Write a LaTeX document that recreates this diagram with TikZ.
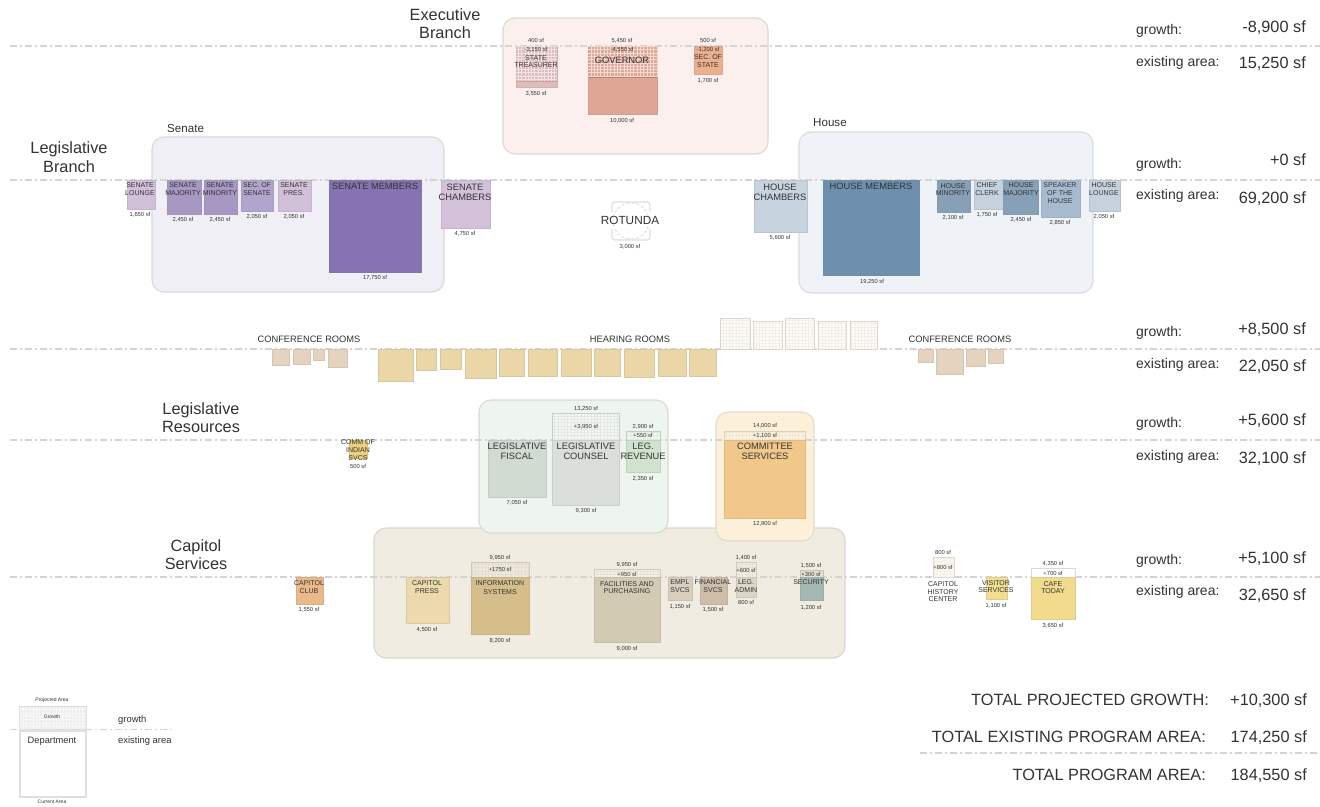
\documentclass[tikz,border=0pt]{standalone}
\usepackage{fontspec}
\setmainfont{Liberation Sans}
\newcounter{lblc}
\definecolor{ink}{HTML}{333333}
\definecolor{trline}{HTML}{C9A0A0}
\definecolor{govline}{HTML}{C08070}
\definecolor{cafeedge}{HTML}{DDDAD0}
\definecolor{legendedge}{HTML}{E0E0E0}
\tikzset{
  zone/.style={line width=1.1pt,rounded corners=12pt},
  room/.style={line width=1pt},
  axisline/.style={draw=black!17,line width=1.1pt,dash pattern=on 7pt off 3pt on 2pt off 3pt},
  fine/.style={line width=.25pt,draw opacity=.6},
  txt/.style={inner sep=0pt,text=ink,anchor=base},
  txtl/.style={txt,anchor=base west},
  txtr/.style={txt,anchor=base east}
}
% zone: x0 y0 x1 y1 fill border
\newcommand{\zonebox}[6]{\definecolor{ca}{HTML}{#5}\definecolor{cb}{HTML}{#6}\path[zone,fill=ca,draw=cb] (#1,#2) rectangle (#3,#4);}
% room: x0 y0 x1 y1 colour
\newcommand{\roombox}[5]{\definecolor{ca}{HTML}{#5}\path[room,fill=ca,draw=ca!82!gray] (#1,#2) rectangle (#3,#4);}
% hatch: x0 y0 x1 y1 colour name
\newcommand{\hatch}[5]{\begin{scope}[y=1pt]\draw[fine,draw=#5] (#1,-#4) grid[xstep=3.3,ystep=3.3] (#3,-#2);\end{scope}}
% grid panel: x0 y0 x1 y1 fill gridcolour border
\newcommand{\gridbox}[7]{\definecolor{ca}{HTML}{#5}\definecolor{cb}{HTML}{#6}\definecolor{cc}{HTML}{#7}\path[fill=ca] (#1,#2) rectangle (#3,#4);
  \hatch{#1}{#2}{#3}{#4}{cb}
  \draw[room,draw=cc] (#1,#2) rectangle (#3,#4);}
% text: size x y text
\newcommand{\T}[4]{\stepcounter{lblc}\node[txt] (t\arabic{lblc}) at ({#2},{#3+0.36*#1}) {\fontsize{#1}{#1}\selectfont #4};}
\newcommand{\TL}[4]{\stepcounter{lblc}\node[txtl] (t\arabic{lblc}) at ({#2},{#3+0.36*#1}) {\fontsize{#1}{#1}\selectfont #4};}
\newcommand{\TR}[4]{\stepcounter{lblc}\node[txtr] (t\arabic{lblc}) at ({#2},{#3+0.36*#1}) {\fontsize{#1}{#1}\selectfont #4};}
\begin{document}
\begin{tikzpicture}[x=1pt,y=-1pt]
\useasboundingbox (0,0) rectangle (1320,806);
\fill[white] (0,0) rectangle (1320,806);
% zones
\zonebox{503}{18}{768}{154}{FCF0EE}{DDD8D5}
\zonebox{152}{137}{444}{292}{F0EFF6}{D9D8DE}
\zonebox{799}{132}{1093}{293}{EFF2F7}{D9DCE0}
\zonebox{374}{528}{845}{658}{F0ECE2}{D9D6CD}
\zonebox{479}{400}{668}{533}{EEF5EF}{D5DCD6}
\zonebox{716}{412}{814}{541}{FDF0D9}{E2DCCB}
% axis lines
\foreach \yy in {46,180,349,440,577}{\draw[axisline] (10,\yy) -- (1320,\yy);}
\draw[axisline] (10,729.5) -- (173,729.5);
\draw[axisline] (920,753) -- (1320,753);
% Executive
\roombox{516}{46}{557}{87}{E0BDBD}
\hatch{516}{46}{557}{81}{white}
\draw[line width=.6pt,draw=trline] (516,81) -- (557,81);
\roombox{588}{46}{657}{114}{DFA595}
\hatch{588}{46}{657}{77}{white}
\draw[line width=.6pt,draw=govline] (588,77) -- (657,77);
\roombox{694}{46}{722}{74}{EDB08E}
\T{5.8}{536}{40}{400 sf}
\T{5.8}{536}{49}{-3,150 sf}
\T{7}{536}{57.5}{STATE}
\T{7}{536}{65}{TREASURER}
\T{5.8}{536}{93}{3,550 sf}
\T{5.8}{622}{40}{5,450 sf}
\T{5.8}{622}{49}{-4,550 sf}
\T{9.3}{622}{60}{GOVERNOR}
\T{5.8}{622}{120}{10,000 sf}
\T{5.8}{708}{40}{500 sf}
\T{5.8}{708}{49}{-1,200 sf}
\T{7}{708}{57}{SEC. OF}
\T{7}{708}{65}{STATE}
\T{5.8}{708}{80}{1,700 sf}
% Senate
\roombox{127}{180}{155}{209}{D2C0DA}
\roombox{167}{180}{201}{214}{A798C3}
\roombox{204}{180}{237}{214}{A798C3}
\roombox{241}{180}{273}{211}{B1A5CE}
\roombox{278}{180}{311}{211}{D2C0DA}
\roombox{329}{180}{421}{272}{8674B2}
\roombox{441}{180}{490}{228}{D2C1D9}
\T{7}{140}{185}{SENATE}\T{7}{140}{193}{LOUNGE}\T{5.8}{140}{214}{1,650 sf}
\T{7}{183}{185}{SENATE}\T{7}{183}{193}{MAJORITY}\T{5.8}{183}{219}{2,450 sf}
\T{7}{220}{185}{SENATE}\T{7}{220}{193}{MINORITY}\T{5.8}{220}{219}{2,450 sf}
\T{7}{257}{185}{SEC. OF}\T{7}{257}{193}{SENATE}\T{5.8}{257}{216}{2,050 sf}
\T{7}{294}{185}{SENATE}\T{7}{294}{193}{PRES.}\T{5.8}{294}{216}{2,050 sf}
\T{9.3}{375}{186.5}{SENATE MEMBERS}\T{5.8}{375}{277}{17,750 sf}
\T{9.3}{465}{187.5}{SENATE}\T{9.3}{465}{197.5}{CHAMBERS}\T{5.8}{465}{233}{4,750 sf}
\TL{11.6}{167}{128}{Senate}
% Rotunda
\draw[line width=1.2pt,draw=black!13,rounded corners=3pt] (612,212) -- (612,202) -- (650,202) -- (650,212);
\draw[line width=1.2pt,draw=black!13,rounded corners=3pt] (612,229) -- (612,240) -- (650,240) -- (650,229);
\draw[line width=.7pt,draw=black!16,densely dashed] (631,221) circle (18);
\T{11.8}{630}{220.7}{ROTUNDA}
\T{5.8}{630}{246}{3,000 sf}
% House
\roombox{754}{180}{807}{232}{C7D3DE}
\roombox{823}{180}{919}{275}{6E8FAE}
\roombox{937}{180}{970}{212}{86A0B7}
\roombox{974}{180}{1003}{209}{C5D2DE}
\roombox{1003}{180}{1038}{214}{86A0B7}
\roombox{1041}{180}{1080}{217}{A6BBCF}
\roombox{1089}{180}{1120}{211}{C5D2DE}
\T{9.3}{780}{187.5}{HOUSE}\T{9.3}{780}{197.5}{CHAMBERS}\T{5.8}{780}{237}{5,600 sf}
\T{9.3}{871}{186.5}{HOUSE MEMBERS}\T{5.8}{872}{281}{19,250 sf}
\T{7}{953}{186}{HOUSE}\T{7}{953}{193}{MINORITY}\T{5.8}{953}{217}{2,100 sf}
\T{7}{987}{185}{CHIEF}\T{7}{987}{193}{CLERK}\T{5.8}{987}{214}{1,750 sf}
\T{7}{1021}{185}{HOUSE}\T{7}{1021}{193}{MAJORITY}\T{5.8}{1021}{219}{2,450 sf}
\T{7}{1060}{185}{SPEAKER}\T{7}{1060}{193}{OF THE}\T{7}{1060}{201}{HOUSE}\T{5.8}{1060}{222}{2,850 sf}
\T{7}{1104}{185}{HOUSE}\T{7}{1104}{193}{LOUNGE}\T{5.8}{1104}{216}{2,050 sf}
\TL{11.6}{813}{122.5}{House}
% Conference and hearing rooms
\foreach \a/\b/\c in {272/289/365,293/310/364,313/324/360,328/347/367,918/933/362,936/963/374,966/985/366,988/1003/363}{
  \roombox{\a}{349}{\b}{\c}{E5D3C0}}
\foreach \a/\b/\c in {378/413/381,416/436/370,440/461/369,465/496/378,499/524/376,528/557/376,561/591/376,594/620/376,624/654/377,658/686/376,689/716/376}{
  \roombox{\a}{349}{\b}{\c}{EBD6A8}}
\foreach \a/\b/\c in {720/750/318,753/782/321,785/814/318,818/846/321,850/877/321}{
  \gridbox{\a}{\c}{\b}{349}{FDFBF8}{EDE6DC}{DAD5D0}}
\T{9.3}{309}{339}{CONFERENCE ROOMS}
\T{9.3}{630}{339}{HEARING ROOMS}
\T{9.3}{960}{339}{CONFERENCE ROOMS}
% Legislative resources
\roombox{349}{440}{367}{458}{EDD07F}
\T{7}{358}{442}{COMM OF}\T{7}{358}{450}{INDIAN}\T{7}{358}{458}{SVCS}\T{5.8}{358}{466}{500 sf}
\roombox{488}{440}{546}{497}{D2DBD2}
\T{9.3}{517}{446}{LEGISLATIVE}\T{9.3}{517}{456}{FISCAL}\T{5.8}{517}{502}{7,050 sf}
\gridbox{552}{413}{619}{440}{F3F7F2}{D9E0D8}{C9CFC8}
\roombox{552}{440}{619}{505}{DBDFD9}
\T{5.8}{586}{408}{13,250 sf}\T{5.8}{586}{426}{+3,950 sf}
\T{9.3}{586}{446}{LEGISLATIVE}\T{9.3}{586}{456}{COUNSEL}\T{5.8}{586}{510}{9,300 sf}
\gridbox{626}{431}{660}{440}{F3F7F2}{D9E0D8}{C0CFC0}
\roombox{626}{440}{660}{472}{D1E2CF}
\T{5.8}{643}{426}{2,900 sf}\T{5.8}{643}{435}{+550 sf}
\T{9.3}{643}{446}{LEG.}\T{9.3}{643}{456}{REVENUE}\T{5.8}{643}{478}{2,350 sf}
\gridbox{724}{431}{805}{440}{FDF3E0}{EADEC8}{DDD0B8}
\roombox{724}{440}{805}{518}{F2C78A}
\T{5.8}{765}{425}{14,000 sf}\T{5.8}{765}{435}{+1,100 sf}
\T{9.3}{765}{446}{COMMITTEE}\T{9.3}{765}{456}{SERVICES}\T{5.8}{765}{523}{12,900 sf}
% Capitol services
\roombox{296}{577}{323}{604}{EBB88A}
\T{7}{309}{583}{CAPITOL}\T{7}{309}{591}{CLUB}\T{5.8}{309}{609}{1,550 sf}
\roombox{406}{577}{449}{623}{ECD9AC}
\T{7}{427}{583}{CAPITOL}\T{7}{427}{591}{PRESS}\T{5.8}{427}{629}{4,500 sf}
\gridbox{471}{562}{529}{577}{EFEADD}{DDD7C8}{CFC9B9}
\roombox{471}{577}{529}{634}{D6BE8B}
\T{5.8}{500}{557}{9,950 sf}\T{5.8}{500}{569}{+1750 sf}
\T{7}{500}{583}{INFORMATION}\T{7}{500}{592}{SYSTEMS}\T{5.8}{500}{640}{8,200 sf}
\gridbox{594}{569}{660}{577}{F5F1E8}{DED8CA}{D0CABC}
\roombox{594}{577}{660}{642}{D2CAB3}
\T{5.8}{627}{564}{9,950 sf}\T{5.8}{627}{574}{+950 sf}
\T{7}{627}{583.5}{FACILITIES AND}\T{7}{627}{591}{PURCHASING}\T{5.8}{627}{648}{9,000 sf}
\roombox{668}{577}{692}{600}{D8CFBC}
\T{7}{680}{582}{EMPL}\T{7}{680}{590}{SVCS}\T{5.8}{680}{606}{1,150 sf}
\roombox{700}{577}{727}{604}{CDBDA9}
\T{7}{713}{582}{FINANCIAL}\T{7}{713}{590}{SVCS}\T{5.8}{713}{609}{1,500 sf}
\gridbox{736}{562}{756}{577}{F3EFE5}{DED8CA}{D0CABC}
\roombox{736}{577}{756}{597}{DDD7C7}
\T{5.8}{746}{557}{1,400 sf}\T{5.8}{746}{570}{+600 sf}
\T{7}{746}{582}{LEG.}\T{7}{746}{590}{ADMIN}\T{5.8}{746}{602}{800 sf}
\gridbox{800}{570}{823}{577}{E9E6DB}{D8D4C8}{C8C4B8}
\roombox{800}{577}{823}{600}{A3B8B2}
\T{5.8}{811}{565}{1,500 sf}\T{5.8}{811}{574}{+300 sf}
\T{7}{811}{582}{SECURITY}\T{5.8}{811}{607}{1,200 sf}
\gridbox{933}{557}{954}{577}{FBF9F2}{EFEADD}{DEDBD2}
\T{5.8}{943}{552}{800 sf}\T{5.8}{943}{567}{+800 sf}
\T{7}{943}{584}{CAPITOL}\T{7}{943}{591.5}{HISTORY}\T{7}{943}{599}{CENTER}
\roombox{986}{577}{1007}{599}{F2DE8E}
\T{7}{996}{583}{VISITOR}\T{7}{996}{590}{SERVICES}\T{5.8}{996}{605}{1,100 sf}
\path[room,fill=white,draw=cafeedge] (1031,568) rectangle (1075,577);
\roombox{1031}{577}{1075}{619}{F2DB8D}
\T{5.8}{1053}{563}{4,350 sf}\T{5.8}{1053}{573}{+700 sf}
\T{7}{1053}{584}{CAFE}\T{7}{1053}{590.5}{TODAY}\T{5.8}{1053}{625}{3,650 sf}
% Headings
\T{16.3}{445}{15}{Executive}\T{16.3}{445}{33}{Branch}
\T{16.3}{69}{148}{Legislative}\T{16.3}{69}{167}{Branch}
\T{16.3}{201}{409}{Legislative}\T{16.3}{201}{427}{Resources}
\T{16.3}{196}{546}{Capitol}\T{16.3}{196}{564}{Services}
% Right-hand totals
\foreach \ga/\gb/\ea/\eb/\gv/\ev in {
  29/27/61/63/-8{,}900/15{,}250,
  163/160/194/198/+0/69{,}200,
  331/329/363/366/+8{,}500/22{,}050,
  422/420/455/458/+5{,}600/32{,}100,
  559/558/590/595/+5{,}100/32{,}650}{
  \TL{14}{1136}{\ga}{growth:}
  \TL{14}{1136}{\ea}{existing area:}
  \TR{16.3}{1306}{\gb}{\gv{} sf}
  \TR{16.3}{1306}{\eb}{\ev{} sf}
}
\TR{16.3}{1209}{700}{TOTAL PROJECTED GROWTH:}
\TR{16.3}{1206}{737}{TOTAL EXISTING PROGRAM AREA:}
\TR{16.3}{1206}{775}{TOTAL PROGRAM AREA:}
\TR{16.3}{1307}{700}{+10,300 sf}
\TR{16.3}{1307}{737}{174,250 sf}
\TR{16.3}{1307}{775}{184,550 sf}
% Legend
\gridbox{19}{706}{86}{729}{EEEEEE}{FFFFFF}{DDDDDD}
\path[line width=1.5pt,fill=white,draw=legendedge] (20,731) rectangle (86,797);
\T{5}{52}{700}{Projected Area}
\T{5}{52}{717}{Growth}
\T{9.3}{52}{740}{Department}
\T{5}{52}{802}{Current Area}
\TL{9.4}{118}{719}{growth}
\TL{9.4}{118}{740}{existing area}
\end{tikzpicture}
\end{document}
